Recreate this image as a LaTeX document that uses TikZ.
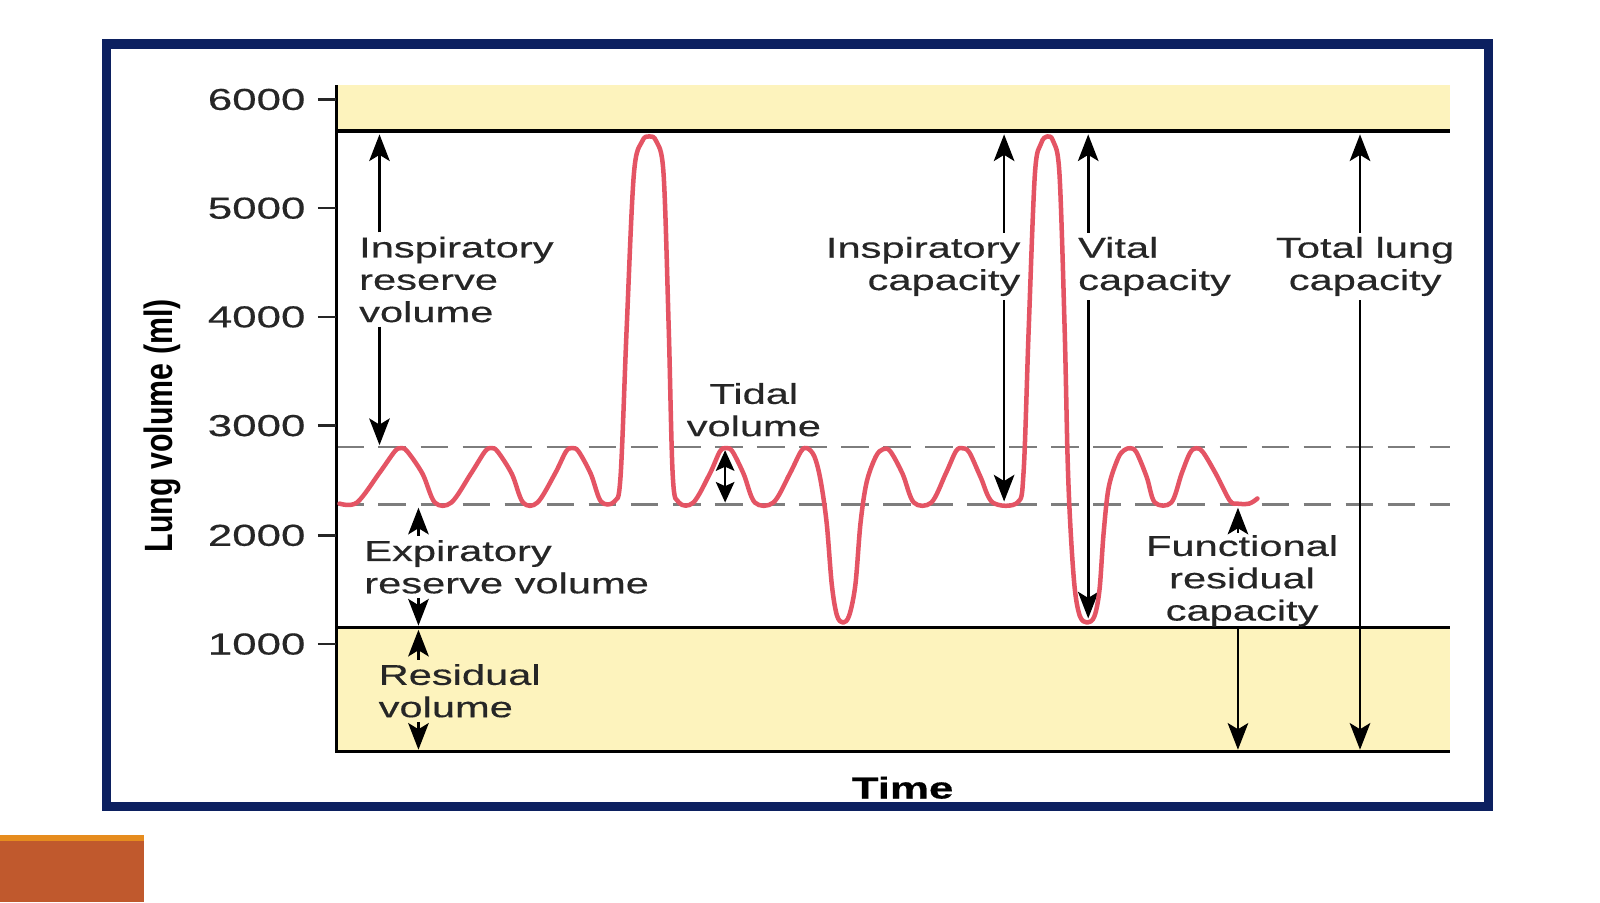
\documentclass[tikz,border=0pt]{standalone}
\usepackage{fontspec}
\usepackage{graphicx}
\setmainfont{Liberation Sans}[FakeStretch=1.45,FakeBold=0.4]
\newfontfamily\axisfont{Liberation Sans}
\usetikzlibrary{arrows.meta}
\definecolor{framenavy}{RGB}{12,32,96}
\definecolor{bandyellow}{RGB}{253,243,189}
\definecolor{tracered}{RGB}{228,84,100}
\definecolor{dashgray}{RGB}{125,125,125}
\definecolor{inkgray}{RGB}{38,38,38}
\definecolor{tabrust}{RGB}{192,89,45}
\definecolor{tabamber}{RGB}{230,140,30}
\begin{document}
\begin{tikzpicture}[x=1pt,y=-1pt,
  lbl/.style={inner sep=4pt,font=\fontsize{28}{31.5}\selectfont,text=inkgray},
  ticklbl/.style={font=\fontsize{29.5}{30}\selectfont,text=inkgray,anchor=east},
  dim/.style={-{Stealth[length=26pt,width=20pt,inset=6pt]},line width=2.6pt,black},
  dimboth/.style={{Stealth[length=20pt,width=18pt,inset=4pt]}-{Stealth[length=20pt,width=18pt,inset=4pt]},line width=2.6pt,black},
  band/.style={fill=bandyellow},
  hrule/.style={line width=3.5pt,black},
  guide/.style={dashgray,line width=2.2pt,dash pattern=on 27pt off 14pt}]
\tikzstyle{every node}+=[inner sep=0pt]
\useasboundingbox (0,0) rectangle (1560,879.5);
\fill [white] (0,0) rectangle (1560,879.5);
\fill [tabrust] (0,814) rectangle (140,879.5);
\fill [tabamber] (0,814) rectangle (140,820);
\draw [framenavy,line width=9pt] (104,43) rectangle (1451,786);
\fill [band] (328,83) rectangle (1414,128);
\fill [band] (328,612) rectangle (1414,733);
\draw [guide] (328,436) -- (1414,436);
\draw [guide] (328,492) -- (1414,492);
\draw [hrule] (328,128) -- (1414,128);
\draw [hrule] (328,612) -- (1414,612);
\draw [line width=3pt,black] (328,83) -- (328,733) -- (1414,733);
\foreach \v/\y in {6000/97,5000/203,4000/309,3000/415,2000/522,1000/628} {
  \draw [line width=2.5pt,inkgray] (310,\y) -- (328,\y);
  \node [ticklbl] (t\v) at (298,\y) {\v};
}
\node [rotate=90] (ylab) at (158,415) {\scalebox{1}[1.3]{\axisfont\bfseries\fontsize{29.6}{30}\selectfont Lung volume (ml)}};
\node [font=\bfseries\fontsize{29.5}{30}\selectfont,text=black] (time) at (880,768) {Time};
\node [lbl,align=left,anchor=west] (irv) at (346,272.5) {Inspiratory\\reserve\\volume};
\node [lbl,align=center] (tv) at (735,399.5) {Tidal\\volume};
\node [lbl,align=left,anchor=west] (erv) at (351,552.7) {Expiratory\\reserve volume};
\node [lbl,align=left,anchor=west] (rv) at (365,673.5) {Residual\\volume};
\node [lbl,align=right,anchor=east] (ic) at (999,259.8) {Inspiratory\\capacity};
\node [lbl,align=left,anchor=west] (vc) at (1047,259.8) {Vital\\capacity};
\node [lbl,align=center] (tlc) at (1331,259.8) {Total lung\\capacity};
\node [lbl,align=center,inner sep=2pt] (frc) at (1211,566.3) {Functional\\residual\\capacity};
\coordinate (irvtop) at (370,131);
\coordinate (irvbot) at (370,434);
\coordinate (tvtop) at (707,439);
\coordinate (tvbot) at (707,490);
\coordinate (ervtop) at (408,495);
\coordinate (ervbot) at (408,610);
\coordinate (rvtop) at (408,614);
\coordinate (rvbot) at (408,731);
\coordinate (ictop) at (979,131);
\coordinate (icbot) at (979,489);
\coordinate (vctop) at (1061,131);
\coordinate (vcbot) at (1061,603);
\coordinate (tlctop) at (1326,131);
\coordinate (tlcbot) at (1326,731);
\coordinate (frctop) at (1207,495);
\coordinate (frcbot) at (1207,731);
\draw [dim] (irv.north -| irvtop) -- (irvtop);
\draw [dim] (irv.south -| irvbot) -- (irvbot);
\draw [dimboth] (tvtop) -- (tvbot);
\draw [dim] (erv.north -| ervtop) -- (ervtop);
\draw [dim] (erv.south -| ervbot) -- (ervbot);
\draw [dim] (rv.north -| rvtop) -- (rvtop);
\draw [dim] (rv.south -| rvbot) -- (rvbot);
\draw [dim] (ic.north -| ictop) -- (ictop);
\draw [dim] (ic.south -| icbot) -- (icbot);
\draw [dim] (vc.north -| vctop) -- (vctop);
\draw [dim] (vc.south -| vcbot) -- (vcbot);
\draw [dim] (tlc.north -| tlctop) -- (tlctop);
\draw [dim] (tlc.south -| tlcbot) -- (tlcbot);
\draw [dim] (frc.north -| frctop) -- (frctop);
\draw [dim] (frc.south -| frcbot) -- (frcbot);
\draw [tracered,line width=4.4pt,line cap=round,line join=round] plot [smooth,tension=0.55] coordinates {
  (331,491) (348,490) (370,461) (385,440) (391,437) (397,440) (412,462) (424,490) (440,490) (459,462)
  (473,440) (479,437) (485,440) (499,462) (510,490) (524,490) (541,462) (552,440) (558,437) (564,440)
  (576,462) (586,489) (599,489) (605,465) (611,320) (618,170) (626,138) (633,133) (640,138) (647,170)
  (652,320) (656,465) (662,490) (676,490) (692,462) (702,440) (708,437) (714,440) (725,462) (736,490)
  (754,490) (770,462) (781,440) (787,437) (794,445) (800,468) (806,510) (811,570) (816,600) (822,607)
  (828,600) (834,570) (839,510) (845,470) (854,445) (861,438) (868,440) (880,462) (891,490) (908,490)
  (922,462) (932,440) (938,437) (945,441) (956,465) (968,490) (992,490) (998,460) (1003,320) (1009,170)
  (1015,140) (1021,133) (1027,138) (1033,170) (1038,320) (1041,450) (1044,520) (1048,575) (1053,601) (1060,607)
  (1067,601) (1072,575) (1076,520) (1081,475) (1090,447) (1096,439) (1102,437) (1108,441) (1118,465) (1126,490)
  (1142,490) (1152,462) (1160,442) (1166,437) (1173,441) (1186,463) (1199,488) (1206,491) (1218,491) (1226,486)};
\end{tikzpicture}
\end{document}
